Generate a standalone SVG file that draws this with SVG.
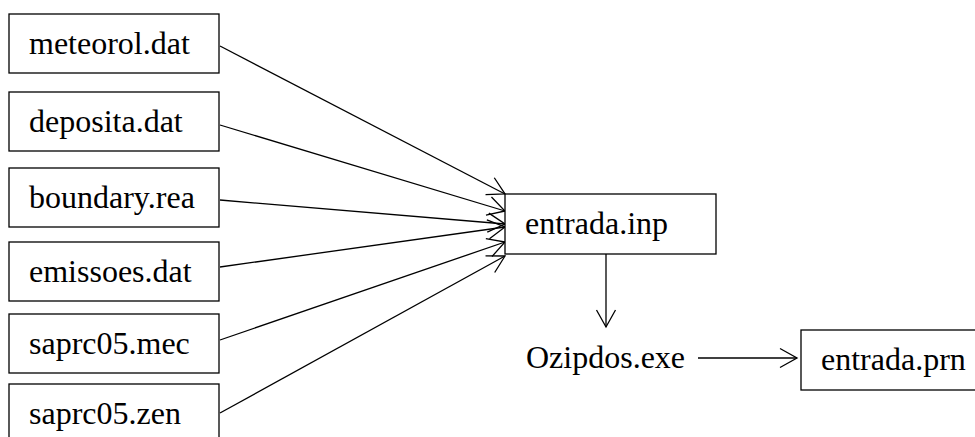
<svg xmlns="http://www.w3.org/2000/svg" width="975" height="437" viewBox="0 0 975 437">
  <style>
    .box { fill: #ffffff; stroke: #000000; stroke-width: 1.3; }
    .lbl { font-family: "Liberation Serif", "Times New Roman", serif; font-size: 32px; fill: #000000; }
    .edge { stroke: #000000; stroke-width: 1.3; fill: none; marker-end: url(#arrow); }
  </style>
  <defs>
    <marker id="arrow" markerUnits="userSpaceOnUse" markerWidth="20" markerHeight="22" refX="17" refY="10" orient="auto" overflow="visible">
      <path d="M0,0.5 L17,10 L0,19.5" fill="none" stroke="#000000" stroke-width="1.3"/>
    </marker>
  </defs>
  <rect width="975" height="437" fill="#ffffff"/>
  <g id="connectors">
    <line class="edge" x1="220" y1="46" x2="505" y2="194"/>
    <line class="edge" x1="220" y1="125" x2="505" y2="211"/>
    <line class="edge" x1="220" y1="200" x2="505" y2="224"/>
    <line class="edge" x1="220" y1="267" x2="505" y2="227"/>
    <line class="edge" x1="220" y1="340" x2="505" y2="242"/>
    <line class="edge" x1="220" y1="413" x2="505" y2="256"/>
    <line class="edge" x1="606" y1="254" x2="606" y2="327"/>
    <line class="edge" x1="698" y1="358" x2="797" y2="358"/>
  </g>
  <g id="meteorol">
    <rect class="box" x="9" y="14" width="210" height="59"/>
    <text class="lbl" x="29" y="54">meteorol.dat</text>
  </g>
  <g id="deposita">
    <rect class="box" x="9" y="92" width="210" height="59"/>
    <text class="lbl" x="29" y="132">deposita.dat</text>
  </g>
  <g id="boundary">
    <rect class="box" x="9" y="168" width="210" height="59"/>
    <text class="lbl" x="29" y="208">boundary.rea</text>
  </g>
  <g id="emissoes">
    <rect class="box" x="9" y="242" width="210" height="59"/>
    <text class="lbl" x="29" y="282">emissoes.dat</text>
  </g>
  <g id="saprc05mec">
    <rect class="box" x="9" y="314" width="210" height="59"/>
    <text class="lbl" x="29" y="354">saprc05.mec</text>
  </g>
  <g id="saprc05zen">
    <rect class="box" x="9" y="384" width="210" height="59"/>
    <text class="lbl" x="29" y="424">saprc05.zen</text>
  </g>
  <g id="entrada_inp">
    <rect class="box" x="505" y="194" width="211" height="60"/>
    <text class="lbl" x="525" y="234">entrada.inp</text>
  </g>
  <g id="ozipdos">
    <text class="lbl" x="526" y="368">Ozipdos.exe</text>
  </g>
  <g id="entrada_prn">
    <rect class="box" x="801" y="330" width="190" height="60"/>
    <text class="lbl" x="821" y="370">entrada.prn</text>
  </g>
</svg>
